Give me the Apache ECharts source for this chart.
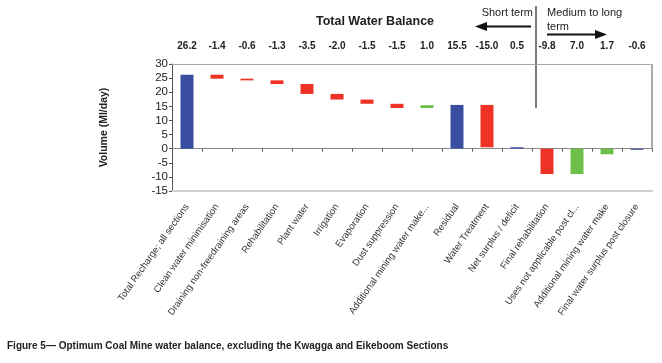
<!DOCTYPE html>
<html>
<head>
<meta charset="utf-8">
<script src="https://cdn.jsdelivr.net/npm/echarts@6/dist/echarts.min.js"></script>
<style>
html,body{margin:0;padding:0;background:#fff;}
#c{width:662px;height:363px;}
</style>
</head>
<body>
<div id="c"></div>
<script>
const categories = [
  'Total Recharge; all sections', 'Clean water minimisation', 'Draining non-freedraining areas',
  'Rehabilitation', 'Plant water', 'Irrigation', 'Evaporation', 'Dust suppression',
  'Additional mining water make...', 'Residual', 'Water Treatment', 'Net surplus / deficit',
  'Final rehabilitation', 'Uses not applicable post cl...', 'Additional mining water make',
  'Final water surplus post closure'
];
const topLabels = ['26.2','-1.4','-0.6','-1.3','-3.5','-2.0','-1.5','-1.5','1.0','15.5','-15.0','0.5','-9.8','7.0','1.7','-0.6'];
// invisible base of each floating bar
const baseValues  = [0, 24.8, 24.2, 22.9, 19.4, 17.4, 15.9, 14.4, 14.4, 0, 0.5, 0, 0, 0, 0, 0];
const blueValues  = [26.2, '-', '-', '-', '-', '-', '-', '-', '-', 15.5, '-', 0.5, '-', '-', '-', -0.4];
const redValues   = ['-', 1.4, 0.6, 1.3, 3.5, 2.0, 1.5, 1.5, '-', '-', 15.0, '-', -9.0, '-', '-', '-'];
const greenValues = ['-', '-', '-', '-', '-', '-', '-', '-', 1.0, '-', '-', '-', '-', -9.0, -2.0, '-'];
const yTicks = { min: -15, max: 30, interval: 5 };

const FONT = '"Liberation Sans", Arial, sans-serif';
const chart = echarts.init(document.getElementById('c'), null, {renderer: 'canvas'});
const barW = 13;
const option = {
  backgroundColor: '#ffffff',
  animation: false,
  grid: { left: 172, right: 10, top: 64, bottom: 172, containLabel: false },
  xAxis: [
    {
      type: 'category', data: categories, position: 'bottom',
      axisLine: { onZero: false, lineStyle: { color: '#cfcfcf', width: 2 } },
      axisTick: { show: false },
      axisLabel: { interval: 0, rotate: 55, fontSize: 9.5, color: '#333', fontFamily: FONT, margin: 14 }
    },
    {
      type: 'category', data: categories, position: 'bottom',
      axisLine: { onZero: true, lineStyle: { color: '#8a8a8a', width: 1 } },
      axisTick: { show: true, interval: 0, length: 3, lineStyle: { color: '#555' } },
      axisLabel: { show: false, interval: 0 }
    },
    {
      type: 'category', data: topLabels, position: 'top',
      axisLine: { onZero: false, lineStyle: { color: '#a8a8a8', width: 1 } },
      axisTick: { show: false },
      axisLabel: { interval: 0, fontSize: 10, fontWeight: 'bold', color: '#222', fontFamily: FONT, margin: 13 }
    }
  ],
  yAxis: {
    type: 'value', min: yTicks.min, max: yTicks.max, interval: yTicks.interval,
    name: 'Volume (Ml/day)', nameLocation: 'middle', nameRotate: 90, nameGap: 62,
    nameTextStyle: { fontSize: 10.5, fontWeight: 'bold', color: '#222', fontFamily: FONT },
    axisLine: { show: true, lineStyle: { color: '#555' } },
    axisTick: { show: true, length: 3, lineStyle: { color: '#555' } },
    axisLabel: { fontSize: 11.5, color: '#222', fontFamily: FONT, margin: 4 },
    splitLine: { show: false }
  },
  series: [
    { name: 'base', type: 'bar', stack: 'wf', data: baseValues, barWidth: barW,
      itemStyle: { color: 'rgba(0,0,0,0)' }, silent: true },
    { name: 'total', type: 'bar', stack: 'wf', data: blueValues, barWidth: barW,
      itemStyle: { color: '#3a4ea1' } },
    { name: 'use', type: 'bar', stack: 'wf', data: redValues, barWidth: barW,
      itemStyle: { color: '#ee3226' } },
    { name: 'make', type: 'bar', stack: 'wf', data: greenValues, barWidth: barW,
      itemStyle: { color: '#6cc04a' } }
  ]
};
chart.setOption(option);

const zeroY = chart.convertToPixel({ yAxisIndex: 0 }, 0);
const topY = chart.convertToPixel({ yAxisIndex: 0 }, yTicks.max);
const rightX = 662 - 10;
chart.setOption({
  graphic: [
    { type: 'line', shape: { x1: rightX, y1: topY, x2: rightX, y2: zeroY }, style: { stroke: '#555', lineWidth: 1 } },
    { type: 'text', x: 375, y: 22, style: { text: 'Total Water Balance', font: 'bold 12.5px ' + FONT, fill: '#222', textAlign: 'center', textVerticalAlign: 'middle' } },
    { type: 'text', x: 533, y: 13, style: { text: 'Short term', font: '11px ' + FONT, fill: '#222', textAlign: 'right', textVerticalAlign: 'middle' } },
    { type: 'text', x: 547, y: 13, style: { text: 'Medium to long', font: '11px ' + FONT, fill: '#222', textAlign: 'left', textVerticalAlign: 'middle' } },
    { type: 'text', x: 547, y: 27, style: { text: 'term', font: '11px ' + FONT, fill: '#222', textAlign: 'left', textVerticalAlign: 'middle' } },
    { type: 'line', shape: { x1: 536, y1: 6, x2: 536, y2: 108 }, style: { stroke: '#333', lineWidth: 1.3 } },
    { type: 'line', shape: { x1: 531, y1: 26.5, x2: 484, y2: 26.5 }, style: { stroke: '#111', lineWidth: 2 } },
    { type: 'polygon', shape: { points: [[475, 26.5], [487, 22], [487, 31]] }, style: { fill: '#111' } },
    { type: 'line', shape: { x1: 547, y1: 34.5, x2: 598, y2: 34.5 }, style: { stroke: '#111', lineWidth: 2 } },
    { type: 'polygon', shape: { points: [[607, 34.5], [595, 30], [595, 39]] }, style: { fill: '#111' } },
    { type: 'text', x: 7, y: 346, style: { text: 'Figure 5\u2014 Optimum Coal Mine water balance, excluding the Kwagga and Eikeboom Sections', font: 'bold 10px ' + FONT, fill: '#222', textAlign: 'left', textVerticalAlign: 'middle' } }
  ]
});
</script>
</body>
</html>
